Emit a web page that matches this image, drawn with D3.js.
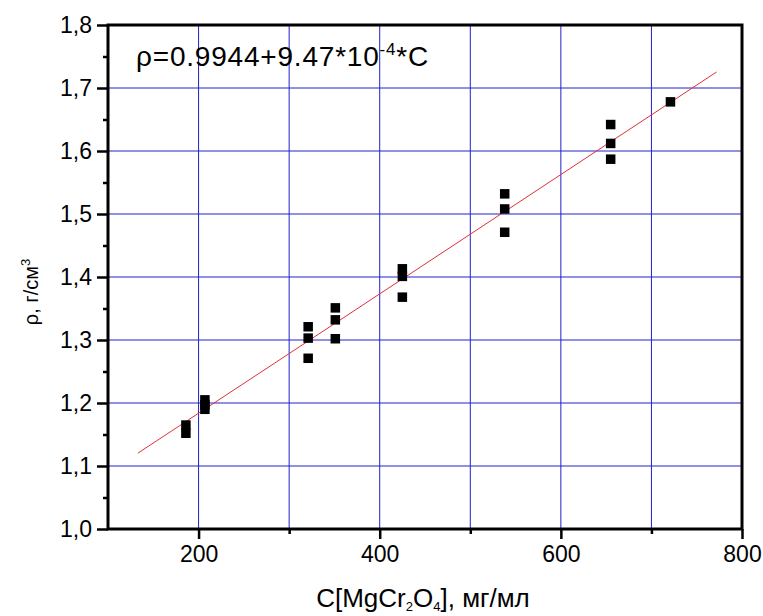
<!DOCTYPE html>
<html>
<head>
<meta charset="utf-8">
<script src="https://cdn.jsdelivr.net/npm/d3@7"></script>
<style>
  body { margin: 0; background: #fff; }
  text { font-family: "Liberation Sans", Arial, sans-serif; fill: #000; }
</style>
</head>
<body>
<svg id="chart" width="763" height="616"></svg>
<script>
// ---- data ----
const concentration = [186, 186, 207, 207, 207, 321, 321, 321, 351, 351, 351, 425, 425, 425, 538, 538, 538, 655, 655, 655, 721];
const density = [1.165, 1.152, 1.205, 1.197, 1.190, 1.321, 1.303, 1.271, 1.351, 1.332, 1.302, 1.413, 1.401, 1.368, 1.532, 1.508, 1.471, 1.642, 1.612, 1.587, 1.678];
const fitIntercept = 0.9944;
const fitSlope = 9.47e-4;
const fitRange = [133, 772];
const xTicksMajor = [200, 400, 600, 800];
const xTicksMinor = [300, 500, 700];
const xGrid = [200, 300, 400, 500, 600, 700];
const yTicksMajor = [1.0, 1.1, 1.2, 1.3, 1.4, 1.5, 1.6, 1.7, 1.8];
const yTicksMinor = [1.05, 1.15, 1.25, 1.35, 1.45, 1.55, 1.65, 1.75];
const yGrid = [1.1, 1.2, 1.3, 1.4, 1.5, 1.6, 1.7];

const svg = d3.select("#chart");
const L = 108, R = 742, T = 25, B = 529;
const x = d3.scaleLinear().domain([100, 800]).range([L, R]);
const y = d3.scaleLinear().domain([1.0, 1.8]).range([B, T]);
const fmt = d => d.toFixed(1).replace(".", ",");
const FF = "Liberation Sans, Arial, sans-serif";

// grid
svg.append("g").selectAll("line").data(xGrid).join("line")
  .attr("x1", d => x(d)).attr("x2", d => x(d)).attr("y1", T).attr("y2", B)
  .attr("stroke", "#2020cc").attr("stroke-width", 1);
svg.append("g").selectAll("line").data(yGrid).join("line")
  .attr("y1", d => y(d)).attr("y2", d => y(d)).attr("x1", L).attr("x2", R)
  .attr("stroke", "#2020cc").attr("stroke-width", 1);

// fit line
svg.append("line")
  .attr("x1", x(fitRange[0])).attr("y1", y(fitIntercept + fitSlope * fitRange[0]))
  .attr("x2", x(fitRange[1])).attr("y2", y(fitIntercept + fitSlope * fitRange[1]))
  .attr("stroke", "#e0303a").attr("stroke-width", 1);

// points
const s = 9.5;
svg.append("g").selectAll("rect").data(concentration.map((c, i) => [c, density[i]])).join("rect")
  .attr("x", d => x(d[0]) - s / 2).attr("y", d => y(d[1]) - s / 2)
  .attr("width", s).attr("height", s).attr("fill", "#000");

// axes
const xAxis = d3.axisBottom(x).tickValues(xTicksMajor).tickSize(10).tickPadding(7).tickFormat(d3.format("d"));
const gx = svg.append("g").attr("transform", `translate(0,${B})`).call(xAxis);
gx.select(".domain").remove();
gx.selectAll(".tick line").attr("stroke-width", 2.5);
gx.selectAll(".tick text").attr("font-size", 23).attr("font-family", FF);
const gxm = svg.append("g").attr("transform", `translate(0,${B})`)
  .call(d3.axisBottom(x).tickValues(xTicksMinor).tickSize(5).tickFormat(""));
gxm.select(".domain").remove();
gxm.selectAll(".tick line").attr("stroke-width", 2.5);

const yAxis = d3.axisLeft(y).tickValues(yTicksMajor).tickSize(11).tickPadding(5).tickFormat(fmt);
const gy = svg.append("g").attr("transform", `translate(${L},0)`).call(yAxis);
gy.select(".domain").remove();
gy.selectAll(".tick line").attr("stroke-width", 2.5);
gy.selectAll(".tick text").attr("font-size", 23).attr("font-family", FF);
const gym = svg.append("g").attr("transform", `translate(${L},0)`)
  .call(d3.axisLeft(y).tickValues(yTicksMinor).tickSize(5).tickFormat(""));
gym.select(".domain").remove();
gym.selectAll(".tick line").attr("stroke-width", 2.5);

// frame
svg.append("rect").attr("x", L).attr("y", T).attr("width", R - L).attr("height", B - T)
  .attr("fill", "none").attr("stroke", "#000").attr("stroke-width", 3);

// annotation
const ann = svg.append("text").attr("x", 136).attr("y", 66).attr("font-size", 28).attr("letter-spacing", 0.8);
ann.append("tspan").text("ρ=0.9944+9.47*10");
ann.append("tspan").attr("dy", -11).attr("font-size", 17).text("-4");
ann.append("tspan").attr("dy", 11).text("*C");

// x title
const xt = svg.append("text").attr("x", (L + R) / 2 - 2).attr("y", 607).attr("text-anchor", "middle").attr("font-size", 26);
xt.append("tspan").text("C[MgCr");
xt.append("tspan").attr("dy", 4).attr("font-size", 13).text("2");
xt.append("tspan").attr("dy", -4).text("O");
xt.append("tspan").attr("dy", 4).attr("font-size", 13).text("4");
xt.append("tspan").attr("dy", -4).text("], мг/мл");

// y title
const yt = svg.append("text").attr("transform", "translate(38,292) rotate(-90)").attr("text-anchor", "middle").attr("font-size", 20);
yt.append("tspan").text("ρ, г/см");
yt.append("tspan").attr("dy", -8).attr("font-size", 13).text("3");
</script>
</body>
</html>
